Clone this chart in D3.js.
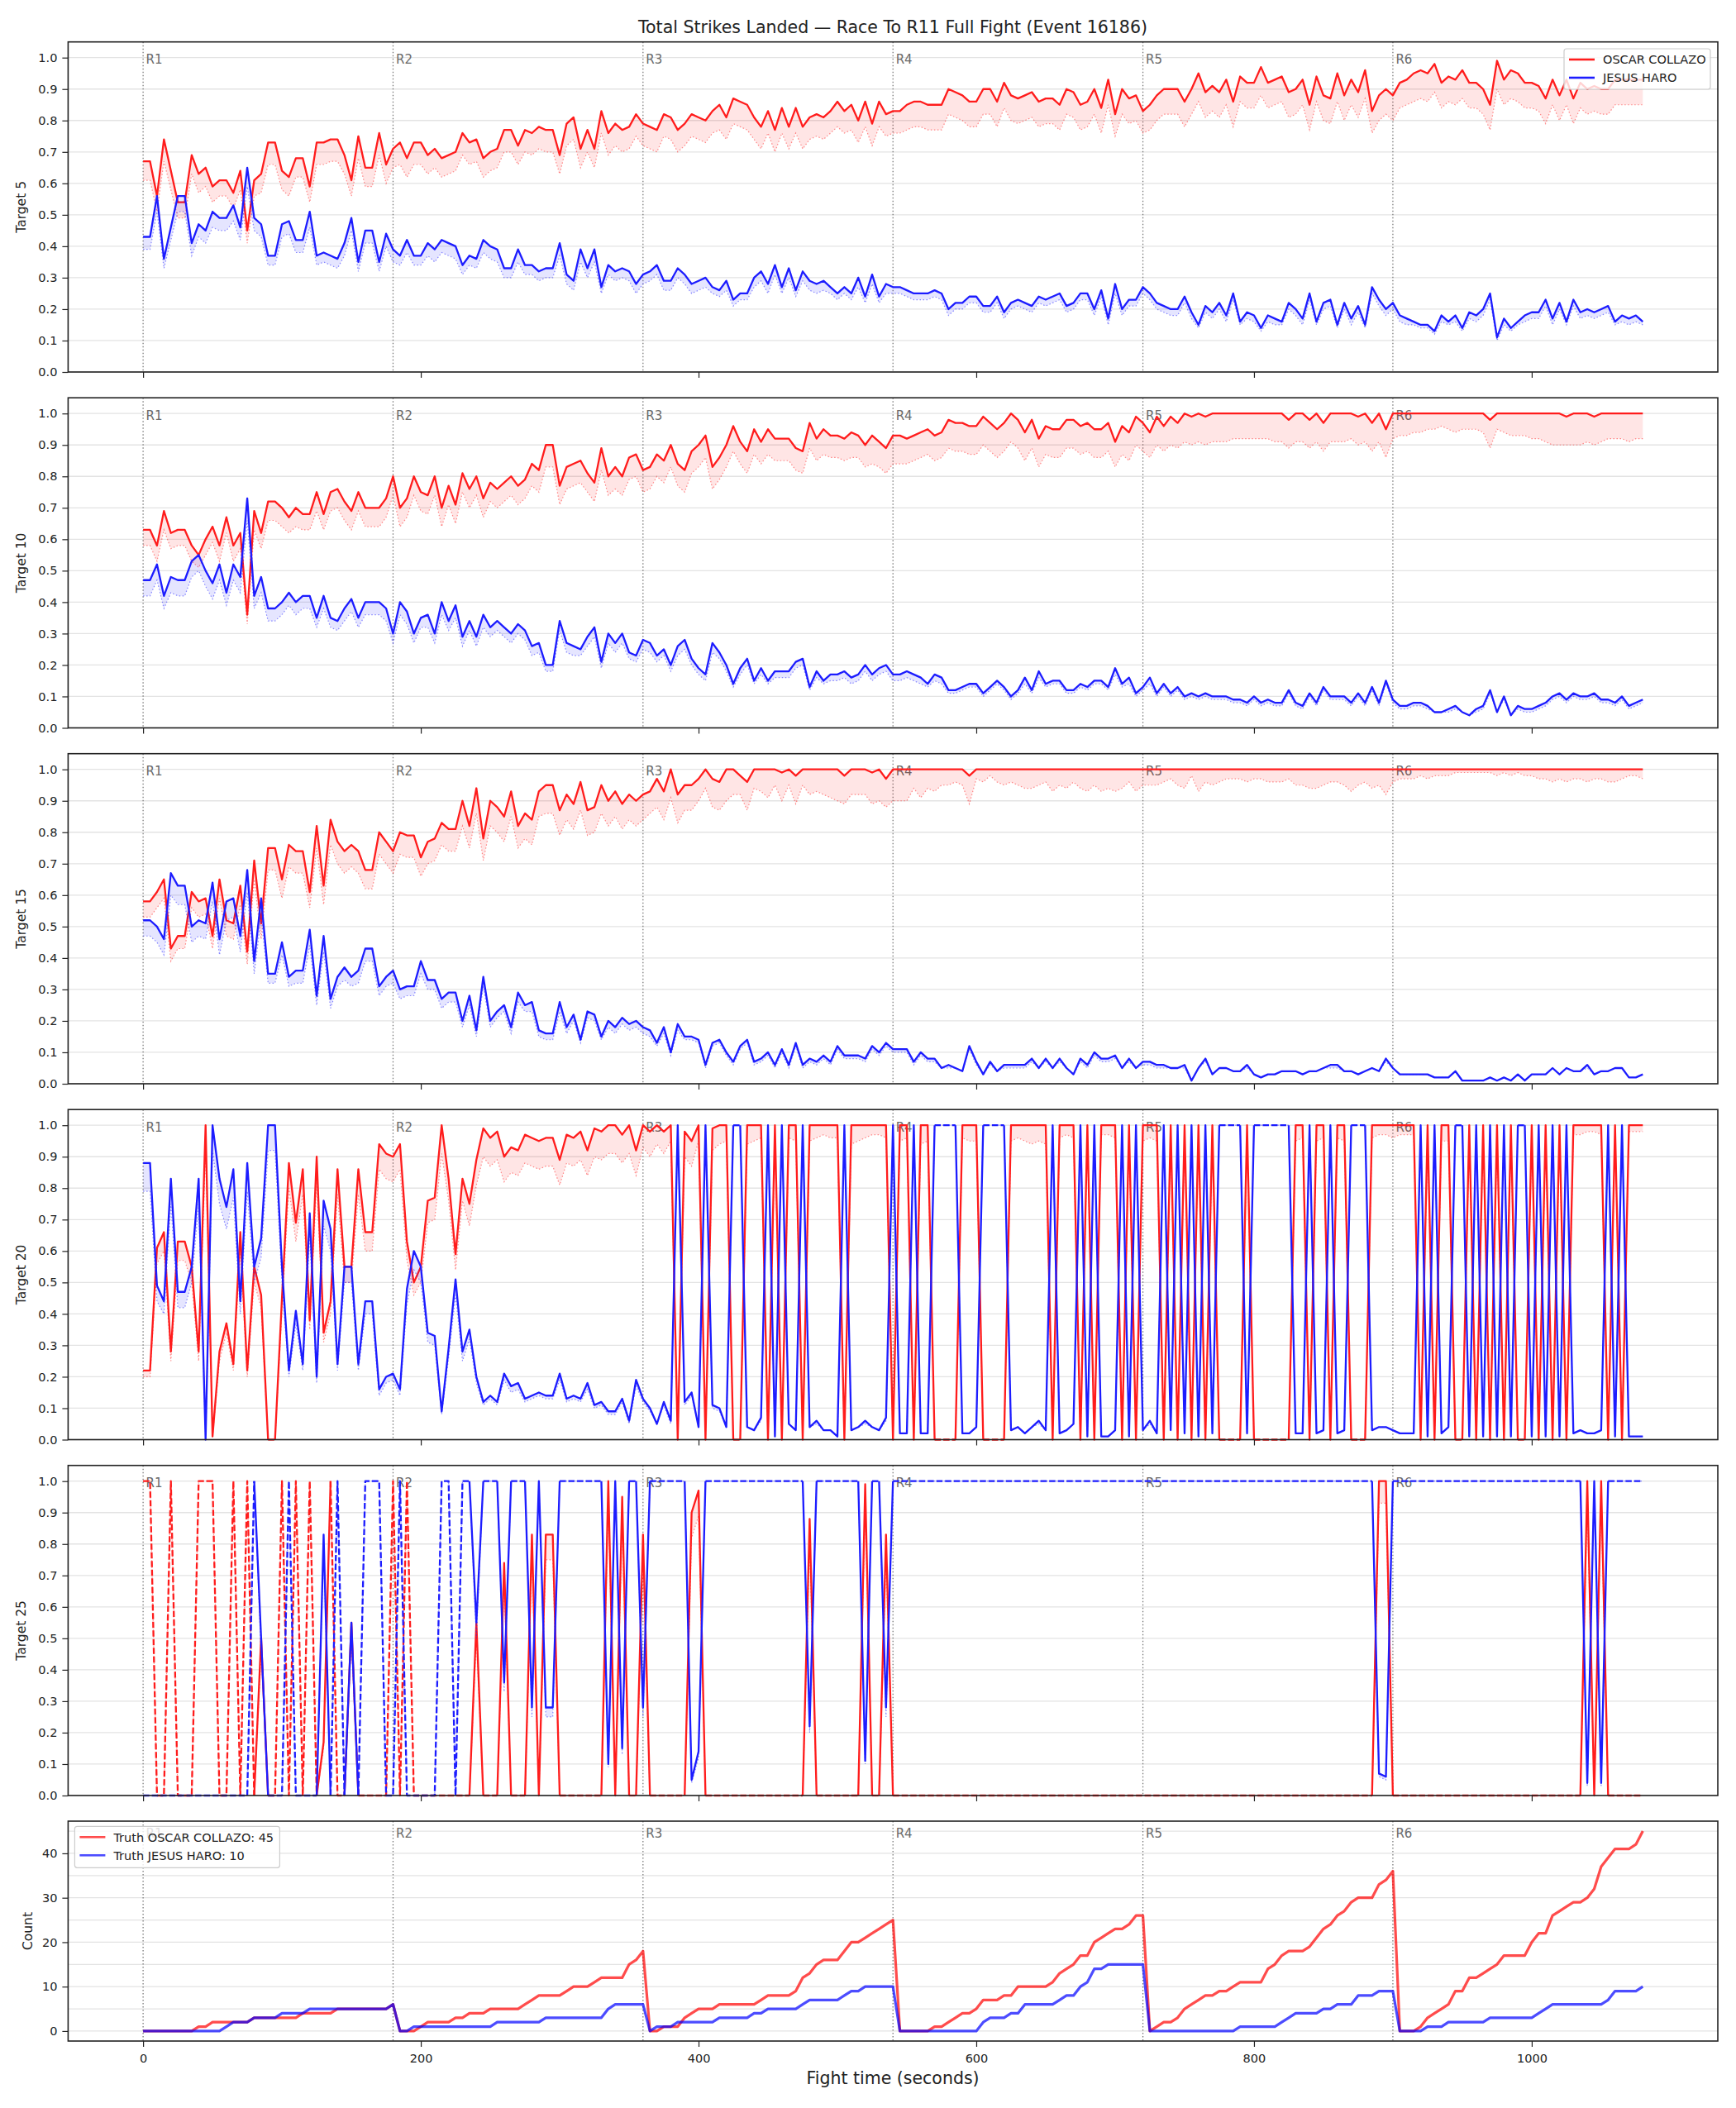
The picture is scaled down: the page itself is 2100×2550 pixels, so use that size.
<!DOCTYPE html>
<html>
<head>
<meta charset="utf-8">
<script src="https://cdn.jsdelivr.net/npm/d3@7"></script>
<style>
  body { margin: 0; background: #fff; }
  text { font-family: "DejaVu Sans", sans-serif; }
</style>
</head>
<body>
<div id="chart"></div>
<script>
const fighters = ["OSCAR COLLAZO", "JESUS HARO"];
const roundStarts = [0, 180, 360, 540, 720, 900];
const roundLabels = ["R1", "R2", "R3", "R4", "R5", "R6"];
const xTicks = [0, 200, 400, 600, 800, 1000];
const times = d3.range(0, 1081, 5);

const t5Red = [67,67,56,74,64,54,54,69,63,65,
59,61,61,57,64,45,61,63,73,73,
64,62,68,68,59,73,73,74,74,69,
61,75,65,65,76,66,71,73,68,73,
73,69,71,68,69,70,76,73,74,68,
70,71,77,77,72,77,76,78,77,77,
69,79,81,71,77,71,83,76,79,77,
78,82,79,78,77,82,81,77,79,82,
81,80,83,85,81,87,86,85,81,78,
83,77,84,78,84,78,81,82,81,83,
86,83,85,80,86,79,86,82,83,83,
85,86,86,85,85,85,90,89,88,86,
86,90,90,86,92,88,87,88,89,86,
87,87,85,90,89,85,86,90,84,93,
82,90,87,88,83,85,88,90,90,90,
86,90,95,89,91,89,93,86,94,92,
92,97,92,93,94,89,90,93,85,94,
88,87,95,88,93,89,96,83,88,90,
88,92,93,95,96,95,98,92,94,93,
96,92,92,90,85,99,93,96,95,92,
92,91,87,93,88,93,87,92,90,91,
90,90,93,93,93,93,93];
const t5RedLow = [61,61,51,67,58,49,49,63,57,59,
54,56,56,52,58,41,56,57,66,66,
58,56,62,62,54,66,66,67,67,63,
56,68,59,59,69,60,65,66,62,66,
66,63,65,62,63,64,69,66,67,62,
64,65,70,70,66,70,69,71,70,70,
63,72,74,65,70,65,76,69,72,70,
71,75,72,71,70,75,74,70,72,75,
74,73,76,77,74,79,78,77,74,71,
76,70,76,71,76,71,74,75,74,76,
78,76,77,73,78,72,78,75,76,76,
77,78,78,77,77,77,82,81,80,78,
78,82,82,78,84,80,79,80,81,78,
79,79,77,82,81,77,78,82,76,85,
75,82,79,80,76,77,80,82,82,82,
78,82,86,81,83,81,85,78,86,84,
84,88,84,85,86,81,82,85,77,86,
80,79,86,80,85,81,87,76,80,82,
80,84,85,86,87,86,89,84,86,85,
87,84,84,82,77,90,85,87,86,84,
84,83,79,85,80,85,79,84,82,83,
82,82,85,85,85,85,85];
const t5Blue = [43,43,56,36,46,56,56,41,47,45,
51,49,49,53,46,65,49,47,37,37,
47,48,42,42,51,37,38,37,36,41,
49,35,45,45,35,44,39,37,42,37,
37,41,39,42,41,40,34,37,36,42,
40,39,33,33,39,34,34,32,33,33,
41,31,29,39,33,39,27,34,32,33,
32,28,31,32,34,29,29,33,31,28,
29,30,27,26,29,23,25,25,30,32,
28,34,27,33,26,32,29,28,29,27,
25,27,25,30,24,31,24,28,27,27,
26,25,25,25,26,25,20,22,22,24,
24,21,21,24,19,22,23,22,21,24,
23,24,25,21,22,25,25,20,26,17,
28,20,23,23,27,25,22,21,20,20,
24,19,15,21,19,22,18,25,16,19,
18,14,18,17,16,22,20,17,25,16,
22,23,15,22,17,21,15,27,23,20,
22,18,17,16,15,15,13,18,16,18,
14,19,18,20,25,11,17,14,16,18,
19,19,23,17,22,16,23,19,20,19,
20,21,16,18,17,18,16];
const t5BlueLow = [39,39,51,33,42,51,51,37,43,41,
46,45,45,48,42,59,45,43,34,34,
43,44,38,38,46,34,35,34,33,37,
45,32,41,41,32,40,35,34,38,34,
34,37,35,38,37,36,31,34,33,38,
36,35,30,30,35,31,31,29,30,30,
37,28,26,35,30,35,25,31,29,30,
29,25,28,29,31,26,26,30,28,25,
26,27,25,24,26,21,23,23,27,29,
25,31,25,30,24,29,26,25,26,25,
23,25,23,27,22,28,22,25,25,25,
24,23,23,23,24,23,18,20,20,22,
22,19,19,22,17,20,21,20,19,22,
21,22,23,19,20,23,23,18,24,15,
25,18,21,21,25,23,20,19,18,18,
22,17,14,19,17,20,16,23,15,17,
16,13,16,15,15,20,18,15,23,15,
20,21,14,20,15,19,14,25,21,18,
20,16,15,15,14,14,12,16,15,16,
13,17,16,18,23,10,15,13,15,16,
17,17,21,15,20,15,21,17,18,17,
18,19,15,16,15,16,15];

const t10Red = [63,63,58,69,62,63,63,58,55,60,
64,58,67,58,62,36,69,62,72,72,
70,67,70,68,68,75,68,75,76,72,
69,75,70,70,70,73,80,70,73,80,
75,74,80,70,77,71,81,76,80,73,
78,76,78,80,77,79,84,82,90,90,
77,83,84,85,81,78,89,80,83,80,
86,87,82,83,87,85,90,84,82,88,
90,93,83,86,90,96,91,88,95,91,
95,92,92,92,89,88,97,92,95,93,
93,92,94,93,90,93,91,89,93,93,
92,93,94,95,93,94,98,97,97,96,
96,99,97,95,97,100,98,94,98,92,
96,95,95,98,98,96,97,95,95,97,
91,96,94,99,97,94,99,96,99,97,
100,99,100,99,100,100,100,100,100,100,
100,100,100,100,100,98,100,100,98,100,
97,100,100,100,100,99,100,97,100,95,
100,100,100,100,100,100,100,100,100,100,
100,100,100,100,98,100,100,100,100,100,
100,100,100,100,100,99,100,100,100,99,
100,100,100,100,100,100,100];
const t10RedLow = [58,58,53,63,57,58,58,53,51,55,
59,53,62,53,57,33,63,57,66,66,
64,62,64,63,63,69,63,69,70,66,
63,69,64,64,64,67,74,64,67,74,
69,68,74,64,71,65,75,70,74,67,
72,70,72,74,71,73,77,75,83,83,
71,76,77,78,75,72,82,74,76,74,
79,80,75,76,80,78,83,77,75,81,
83,86,76,79,83,88,84,81,87,84,
87,85,85,85,82,81,89,85,87,86,
86,85,86,86,83,84,83,81,84,84,
84,85,86,87,85,86,89,88,88,87,
87,90,88,86,88,91,89,85,89,83,
87,86,86,89,89,87,88,86,86,88,
83,87,85,90,88,86,90,88,90,89,
91,90,91,90,91,91,91,92,92,92,
92,92,92,91,91,89,91,91,89,91,
88,91,91,91,92,90,91,88,91,86,
92,93,93,94,94,95,95,96,95,94,
95,95,95,94,89,95,94,93,93,93,
92,92,91,90,90,90,90,90,91,90,
91,92,92,92,91,92,92];
const t10Blue = [47,47,52,42,48,47,47,53,55,50,
46,52,43,52,48,73,42,48,38,38,
40,43,40,42,42,35,42,35,34,38,
41,35,40,40,40,38,30,40,37,30,
35,36,30,40,34,39,29,34,29,36,
32,34,32,30,33,31,26,27,20,20,
34,27,26,25,29,32,21,30,27,30,
24,23,28,27,23,25,20,26,28,22,
19,17,27,24,20,14,19,22,15,19,
15,18,18,18,21,22,13,18,15,17,
17,18,16,17,20,17,19,20,17,17,
18,17,16,14,17,16,12,12,13,14,
14,11,13,15,13,10,12,16,12,18,
14,15,15,12,12,14,13,15,15,13,
19,14,16,11,13,16,11,14,11,13,
10,11,10,11,10,10,10,9,9,8,
10,8,9,8,8,12,8,7,11,8,
13,10,10,10,8,11,8,13,8,15,
9,7,7,8,8,7,5,5,6,7,
5,4,6,7,12,5,10,4,7,6,
6,7,8,10,11,9,11,10,10,11,
9,9,8,10,7,8,9];
const t10BlueLow = [42,42,47,38,43,42,42,48,50,45,
41,47,39,47,43,66,38,43,34,34,
36,39,36,38,38,32,38,32,31,34,
37,32,36,36,36,34,27,36,33,27,
32,32,27,36,31,35,26,31,26,32,
29,31,29,27,30,28,23,24,18,18,
31,24,23,23,26,29,19,27,24,27,
22,21,25,24,21,23,18,23,25,20,
17,15,24,22,18,13,17,20,14,17,
14,16,16,16,19,20,12,16,14,15,
15,16,14,15,18,15,17,18,15,15,
16,15,14,13,15,14,11,11,12,13,
13,10,12,14,12,9,11,14,11,16,
13,14,14,11,11,13,12,14,14,12,
17,13,14,10,12,14,10,13,10,12,
9,10,9,10,9,9,9,8,8,7,
9,7,8,7,7,11,7,6,10,7,
12,9,9,9,7,10,7,12,7,14,
8,6,6,7,7,6,5,5,5,6,
5,4,5,6,11,5,9,4,6,5,
5,6,7,9,10,8,10,9,9,10,
8,8,7,9,6,7,8];

const t15Red = [58,58,61,65,43,47,47,61,58,59,
47,65,52,51,63,42,71,51,75,75,
65,76,74,74,61,82,63,84,77,74,
76,74,68,68,80,77,74,80,79,79,
72,77,78,83,81,81,90,82,94,78,
90,88,85,93,82,86,84,93,95,95,
87,92,89,96,87,88,95,90,93,89,
92,90,92,93,97,93,100,92,95,95,
97,100,97,96,100,100,98,96,100,100,
100,100,99,100,98,100,100,100,100,100,
100,98,100,100,100,99,100,97,100,100,
100,100,100,100,100,100,100,100,100,98,
100,100,100,100,100,100,100,100,100,100,
100,100,100,100,100,100,100,100,100,100,
100,100,100,100,100,100,100,100,100,100,
100,100,100,100,100,100,100,100,100,100,
100,100,100,100,100,100,100,100,100,100,
100,100,100,100,100,100,100,100,100,100,
100,100,100,100,100,100,100,100,100,100,
100,100,100,100,100,100,100,100,100,100,
100,100,100,100,100,100,100,100,100,100,
100,100,100,100,100,100,100];
const t15RedLow = [53,53,56,59,39,43,43,56,53,54,
43,59,47,46,57,38,65,46,68,68,
59,69,67,67,56,75,57,76,70,67,
69,67,62,62,73,70,67,73,72,72,
66,70,71,76,74,74,82,75,86,71,
82,80,77,85,75,78,76,85,86,86,
79,84,81,87,79,80,86,82,85,81,
84,82,84,86,88,84,91,83,87,87,
90,94,88,87,90,92,92,87,94,93,
91,95,90,95,89,95,92,93,92,91,
90,89,92,92,92,89,90,88,90,90,
90,94,91,94,93,95,95,96,95,89,
97,96,98,96,95,96,95,94,94,95,
96,93,95,94,96,94,93,95,93,94,
93,94,96,93,95,95,95,96,97,95,
94,98,93,96,95,96,97,97,97,96,
97,97,96,96,96,97,95,95,94,94,
95,96,96,95,93,95,96,94,95,92,
96,97,97,97,98,97,98,98,98,99,
99,99,99,99,99,98,99,98,99,98,
98,97,97,96,97,96,97,97,96,97,
97,96,96,97,98,98,97];
const t15Blue = [52,52,50,46,67,63,63,50,52,51,
64,46,58,59,47,68,39,59,35,35,
45,34,36,36,49,28,47,27,34,37,
34,36,43,43,31,34,36,30,31,31,
39,33,33,27,29,29,20,28,17,34,
20,23,25,18,29,25,26,17,16,16,
26,18,22,14,23,22,15,20,18,21,
19,20,18,17,13,18,10,19,15,15,
14,6,13,14,10,7,12,14,7,8,
10,6,11,6,13,6,8,7,9,7,
12,9,9,9,8,12,10,13,11,11,
11,7,10,8,8,5,6,5,4,12,
7,3,7,4,6,6,6,6,8,5,
8,5,8,5,3,8,6,10,8,8,
9,5,8,5,7,7,6,6,5,5,
6,1,5,8,3,5,5,4,4,6,
3,2,3,3,4,4,4,3,4,4,
5,6,6,4,4,3,4,5,4,8,
5,3,3,3,3,3,2,2,2,4,
1,1,1,1,2,1,2,1,3,1,
3,3,3,5,3,5,4,4,6,3,
4,4,5,5,2,2,3];
const t15BlueLow = [47,47,45,41,60,57,57,45,47,46,
58,41,52,53,42,61,35,53,32,32,
41,31,32,32,44,25,42,24,31,33,
31,32,39,39,28,31,32,27,28,28,
35,30,30,24,26,26,18,25,15,31,
18,21,23,16,26,23,23,15,14,14,
23,16,20,13,21,20,14,18,16,19,
17,18,16,15,12,16,9,17,14,14,
13,5,12,13,9,6,11,13,6,7,
9,5,10,5,12,5,7,6,8,6,
11,8,8,8,7,11,9,12,10,10,
10,6,9,7,7,5,5,5,4,11,
6,3,6,4,5,5,5,5,7,5,
7,5,7,5,3,7,5,9,7,7,
8,5,7,5,6,6,5,5,5,5,
5,1,5,7,3,5,5,4,4,5,
3,2,3,3,4,4,4,3,4,4,
5,5,5,4,4,3,4,5,4,7,
5,3,3,3,3,3,2,2,2,4,
1,1,1,1,2,1,2,1,3,1,
3,3,3,5,3,5,4,4,5,3,
4,4,5,5,2,2,3];

const t20Red = [22,22,61,66,28,63,63,55,28,100,
1,28,37,24,66,22,55,46,0,0,
45,88,69,86,38,90,34,44,86,55,
55,86,66,66,94,91,90,94,63,50,
55,76,77,100,83,59,83,75,89,99,
96,98,90,93,92,97,96,95,96,96,
89,97,96,98,92,99,98,100,100,97,
100,92,100,98,100,98,100,0,98,95,
100,0,99,100,100,0,0,100,100,100,
0,100,0,100,100,0,100,100,100,100,
100,0,100,100,100,100,100,100,0,100,
100,0,100,100,0,0,0,0,100,100,
100,0,0,0,0,100,100,100,100,100,
100,0,100,100,100,0,100,0,100,100,
100,0,100,0,100,100,100,0,100,0,
100,0,100,0,100,0,0,0,0,100,
0,0,0,0,0,0,100,100,0,100,
100,0,100,100,0,0,0,100,100,100,
100,100,100,100,0,100,0,100,100,0,
0,100,0,100,0,100,0,100,0,0,
100,0,100,0,100,0,100,100,100,100,
100,0,100,0,100,100,100];
const t20RedLow = [20,20,56,60,25,57,57,50,25,92,
1,25,34,22,60,20,50,42,0,0,
41,80,63,78,35,82,31,40,78,50,
50,78,60,60,86,83,82,86,57,46,
50,69,70,91,76,54,76,68,81,90,
87,89,82,85,84,88,87,86,87,87,
81,88,87,89,84,90,89,91,91,88,
91,84,93,90,94,91,95,0,90,87,
95,0,92,94,95,0,0,94,95,96,
0,95,0,96,95,0,95,96,97,96,
96,0,94,95,96,97,97,96,0,95,
96,0,94,95,0,0,0,0,96,95,
95,0,0,0,0,95,96,95,94,95,
94,0,96,97,96,0,95,0,97,97,
96,0,95,0,95,96,95,0,96,0,
96,0,96,0,95,0,0,0,0,96,
0,0,0,0,0,0,95,96,0,95,
96,0,96,95,0,0,0,96,97,97,
96,97,97,97,0,96,0,95,95,0,
0,96,0,96,0,96,0,96,0,0,
96,0,96,0,96,0,97,97,98,98,
97,0,97,0,98,98,98];
const t20Blue = [88,88,49,44,83,47,47,55,83,0,
100,83,74,86,44,88,55,64,100,100,
55,22,41,24,72,20,76,67,24,55,
55,24,44,44,16,20,21,16,48,60,
55,34,33,9,29,51,28,35,20,12,
14,12,21,17,18,13,14,15,14,14,
21,13,14,13,18,11,12,9,9,13,
6,19,13,10,5,12,6,100,12,15,
4,100,11,10,4,100,100,4,3,7,
100,1,100,5,3,100,4,6,3,3,
1,100,3,4,6,4,3,7,100,2,
2,100,2,2,100,100,100,100,2,2,
4,100,100,100,100,3,4,2,4,6,
3,100,2,3,5,100,1,100,1,1,
3,100,1,100,3,6,2,100,3,100,
2,100,1,100,2,100,100,100,100,2,
100,100,100,100,100,100,2,2,100,2,
3,100,2,3,100,100,100,3,4,4,
3,2,2,2,100,1,100,2,4,100,
100,1,100,1,100,1,100,1,100,100,
1,100,1,100,1,100,2,3,2,2,
3,100,1,100,1,1,1];
const t20BlueLow = [79,79,44,40,75,42,42,50,75,0,
92,75,67,77,40,79,50,58,92,92,
50,20,37,22,65,18,68,60,22,50,
50,22,40,40,14,18,19,14,43,54,
50,31,30,8,26,46,25,32,18,11,
13,11,19,15,16,12,13,14,13,13,
19,12,13,12,16,10,11,8,8,12,
5,17,12,9,5,11,5,100,11,14,
4,100,10,9,4,100,100,4,3,6,
100,1,100,5,3,100,4,5,3,3,
1,100,3,4,5,4,3,6,100,2,
2,100,2,2,100,100,100,100,2,2,
4,100,100,100,100,3,4,2,4,5,
3,100,2,3,5,100,1,100,1,1,
3,100,1,100,3,5,2,100,3,100,
2,100,1,100,2,100,100,100,100,2,
100,100,100,100,100,100,2,2,100,2,
3,100,2,3,100,100,100,3,4,4,
3,2,2,2,100,1,100,2,4,100,
100,1,100,1,100,1,100,1,100,100,
1,100,1,100,1,100,2,3,2,2,
3,100,1,100,1,1,1];

const t25Red = [100,100,0,0,100,0,0,0,100,100,
100,0,0,100,0,100,0,50,0,0,
100,0,100,0,100,0,17,100,0,0,
55,0,0,0,0,0,100,0,100,0,
0,0,0,0,0,0,0,0,55,0,
0,0,74,0,0,0,83,0,83,83,
0,0,0,0,0,0,0,100,0,95,
0,0,83,0,0,0,0,0,0,90,
97,0,0,0,0,0,0,0,0,0,
0,0,0,0,0,0,88,0,0,0,
0,0,0,0,99,0,0,83,0,0,
0,0,0,0,0,0,0,0,0,0,
0,0,0,0,0,0,0,0,0,0,
0,0,0,0,0,0,0,0,0,0,
0,0,0,0,0,0,0,0,0,0,
0,0,0,0,0,0,0,0,0,0,
0,0,0,0,0,0,0,0,0,0,
0,0,0,0,0,0,0,0,100,100,
0,0,0,0,0,0,0,0,0,0,
0,0,0,0,0,0,0,0,0,0,
0,0,0,0,0,0,0,0,100,0,
100,0,0,0,0,0,0];
const t25RedLow = [100,100,0,0,100,0,0,0,100,100,
100,0,0,100,0,100,0,45,0,0,
100,0,100,0,100,0,15,100,0,0,
50,0,0,0,0,0,100,0,100,0,
0,0,0,0,0,0,0,0,50,0,
0,0,68,0,0,0,76,0,75,75,
0,0,0,0,0,0,0,93,0,87,
0,0,75,0,0,0,0,0,0,82,
89,0,0,0,0,0,0,0,0,0,
0,0,0,0,0,0,80,0,0,0,
0,0,0,0,92,0,0,75,0,0,
0,0,0,0,0,0,0,0,0,0,
0,0,0,0,0,0,0,0,0,0,
0,0,0,0,0,0,0,0,0,0,
0,0,0,0,0,0,0,0,0,0,
0,0,0,0,0,0,0,0,0,0,
0,0,0,0,0,0,0,0,0,0,
0,0,0,0,0,0,0,0,93,93,
0,0,0,0,0,0,0,0,0,0,
0,0,0,0,0,0,0,0,0,0,
0,0,0,0,0,0,0,0,93,0,
93,0,0,0,0,0,0];
const t25Blue = [0,0,0,0,0,0,0,0,0,0,
0,0,0,0,0,0,100,50,0,0,
0,100,0,0,0,0,83,0,100,0,
55,0,100,100,100,0,0,100,0,0,
0,0,0,100,100,0,100,100,55,100,
100,100,36,100,100,100,28,100,28,28,
100,100,100,100,100,100,100,10,100,15,
100,100,28,100,100,100,100,100,100,5,
14,100,100,100,100,100,100,100,100,100,
100,100,100,100,100,100,22,100,100,100,
100,100,100,100,11,100,100,28,100,100,
100,100,100,100,100,100,100,100,100,100,
100,100,100,100,100,100,100,100,100,100,
100,100,100,100,100,100,100,100,100,100,
100,100,100,100,100,100,100,100,100,100,
100,100,100,100,100,100,100,100,100,100,
100,100,100,100,100,100,100,100,100,100,
100,100,100,100,100,100,100,100,7,6,
100,100,100,100,100,100,100,100,100,100,
100,100,100,100,100,100,100,100,100,100,
100,100,100,100,100,100,100,100,4,100,
4,100,100,100,100,100,100];
const t25BlueLow = [0,0,0,0,0,0,0,0,0,0,
0,0,0,0,0,0,100,45,0,0,
0,100,0,0,0,0,78,0,100,0,
50,0,100,100,100,0,0,100,0,0,
0,0,0,100,100,0,100,100,50,100,
100,100,33,100,100,100,25,100,25,25,
100,100,100,100,100,100,100,9,100,13,
100,100,25,100,100,100,100,100,100,4,
12,100,100,100,100,100,100,100,100,100,
100,100,100,100,100,100,20,100,100,100,
100,100,100,100,10,100,100,25,100,100,
100,100,100,100,100,100,100,100,100,100,
100,100,100,100,100,100,100,100,100,100,
100,100,100,100,100,100,100,100,100,100,
100,100,100,100,100,100,100,100,100,100,
100,100,100,100,100,100,100,100,100,100,
100,100,100,100,100,100,100,100,100,100,
100,100,100,100,100,100,100,100,6,5,
100,100,100,100,100,100,100,100,100,100,
100,100,100,100,100,100,100,100,100,100,
100,100,100,100,100,100,100,100,3,100,
3,100,100,100,100,100,100];

const truthRed = [0,0,0,0,0,0,0,0,1,1,
2,2,2,2,2,2,3,3,3,3,
3,3,3,4,4,4,4,4,5,5,
5,5,5,5,5,5,6,0,0,0,
1,2,2,2,2,3,3,4,4,4,
5,5,5,5,5,6,7,8,8,8,
8,9,10,10,10,11,12,12,12,12,
15,16,18,0,0,1,1,1,3,4,
5,5,5,6,6,6,6,6,6,7,
8,8,8,8,9,12,13,15,16,16,
16,18,20,20,21,22,23,24,25,0,
0,0,0,0,1,1,2,3,4,4,
5,7,7,7,8,8,10,10,10,10,
10,11,13,14,15,17,17,20,21,22,
23,23,24,26,26,0,1,2,2,3,
5,6,7,8,8,9,9,10,11,11,
11,11,14,15,17,18,18,18,19,21,
23,24,26,27,29,30,30,30,33,34,
36,0,0,0,1,3,4,5,6,9,
9,12,12,13,14,15,17,17,17,17,
20,22,22,26,27,28,29,29,30,32,
37,39,41,41,41,42,45];
const truthBlue = [0,0,0,0,0,0,0,0,0,0,
0,0,1,2,2,2,3,3,3,3,
4,4,4,4,5,5,5,5,5,5,
5,5,5,5,5,5,6,0,0,1,
1,1,1,1,1,1,1,1,1,1,
1,2,2,2,2,2,2,2,3,3,
3,3,3,3,3,3,3,5,6,6,
6,6,6,0,1,1,1,2,2,2,
2,2,2,3,3,3,3,3,4,4,
5,5,5,5,5,6,7,7,7,7,
7,8,9,9,10,10,10,10,10,0,
0,0,0,0,0,0,0,0,0,0,
0,2,3,3,3,4,4,6,6,6,
6,6,7,8,8,10,11,14,14,15,
15,15,15,15,15,0,0,0,0,0,
0,0,0,0,0,0,0,0,1,1,
1,1,1,1,2,3,4,4,4,4,
5,5,6,6,6,8,8,8,9,9,
9,0,0,0,0,1,1,1,2,2,
2,2,2,2,3,3,3,3,3,3,
3,4,5,6,6,6,6,6,6,6,
6,7,9,9,9,9,10];

const panels = [
  { label: "Target 5",  red: t5Red,  redLow: t5RedLow,  blue: t5Blue,  blueLow: t5BlueLow },
  { label: "Target 10", red: t10Red, redLow: t10RedLow, blue: t10Blue, blueLow: t10BlueLow },
  { label: "Target 15", red: t15Red, redLow: t15RedLow, blue: t15Blue, blueLow: t15BlueLow },
  { label: "Target 20", red: t20Red, redLow: t20RedLow, blue: t20Blue, blueLow: t20BlueLow },
  { label: "Target 25", red: t25Red, redLow: t25RedLow, blue: t25Blue, blueLow: t25BlueLow }
];

const RED = "rgb(255,28,28)", BLUE = "rgb(28,28,255)";
const INK = "#222";

const svg = d3.select("#chart").append("svg")
    .attr("width", 2100).attr("height", 2550);
svg.append("rect").attr("width", 2100).attr("height", 2550).attr("fill", "#fff");

const left = 82.4, right = 2078;
const x = d3.scaleLinear().domain([-54, 1134]).range([left, right]);

function drawGrid(g, y, vals) {
  g.selectAll(null).data(vals).join("line")
    .attr("x1", left).attr("x2", right)
    .attr("y1", d => y(d)).attr("y2", d => y(d))
    .attr("stroke", "#e3e3e3").attr("stroke-width", 1.3);
}

function drawRounds(g, top, h) {
  roundStarts.forEach((t, r) => {
    g.append("line")
      .attr("x1", x(t)).attr("x2", x(t)).attr("y1", top).attr("y2", top + h)
      .attr("stroke", "#707070").attr("stroke-width", 1.2)
      .attr("stroke-dasharray", "1.5,2.5");
    g.append("text")
      .attr("x", x(t) + 3.5).attr("y", top + 0.053 * h + 5.5)
      .attr("fill", "#6a6a6a").attr("font-size", 15)
      .text(roundLabels[r]);
  });
}

function drawSeries(g, y, vals, lows, col, fill) {
  const n = Math.min(times.length, vals.length, lows.length);
  const pts = d3.range(n).map(k => ({ t: times[k], v: vals[k], lo: lows[k] }));
  g.append("path").datum(pts)
    .attr("d", d3.area().x(d => x(d.t)).y0(d => y(d.lo / 100)).y1(d => y(d.v / 100)))
    .attr("fill", fill);
  g.append("path").datum(pts)
    .attr("d", d3.line().x(d => x(d.t)).y(d => y(d.lo / 100)))
    .attr("fill", "none").attr("stroke", col).attr("stroke-opacity", 0.5)
    .attr("stroke-width", 1.2).attr("stroke-dasharray", "1.5,2.5");

  // saturated stretches with no band show up dashed in the reference
  const flat = d => (d.v === 0 || d.v === 100) && d.lo === d.v;
  const runs = [];
  for (let k = 0; k < n - 1; k++) {
    const dashed = flat(pts[k]) && flat(pts[k + 1]);
    const last = runs[runs.length - 1];
    if (last && last.dashed === dashed) last.pts.push(pts[k + 1]);
    else runs.push({ dashed: dashed, pts: [pts[k], pts[k + 1]] });
  }
  const line = d3.line().x(d => x(d.t)).y(d => y(d.v / 100));
  runs.forEach(r => {
    g.append("path").datum(r.pts).attr("d", line)
      .attr("fill", "none").attr("stroke", col).attr("stroke-width", 2.3)
      .attr("stroke-linejoin", "round")
      .attr("stroke-dasharray", r.dashed ? "7.5,3" : null);
  });
}

function drawFrame(g, y, top, h, yTickVals, fmt, showX, ylabel, ylabelX) {
  const ya = g.append("g").attr("transform", `translate(${left},0)`)
    .call(d3.axisLeft(y).tickValues(yTickVals).tickFormat(fmt).tickSize(7).tickPadding(6));
  ya.select(".domain").remove();
  ya.selectAll("line").attr("stroke", INK).attr("stroke-width", 1.2);
  ya.selectAll("text").attr("font-size", 14.5).attr("fill", INK)
    .attr("font-family", "DejaVu Sans, sans-serif");

  const xa = g.append("g").attr("transform", `translate(0,${top + h})`)
    .call(d3.axisBottom(x).tickValues(xTicks).tickSize(7).tickPadding(9)
      .tickFormat(showX ? d3.format("d") : ""));
  xa.select(".domain").remove();
  xa.selectAll("line").attr("stroke", INK).attr("stroke-width", 1.2);
  xa.selectAll("text").attr("font-size", 14.5).attr("fill", INK)
    .attr("font-family", "DejaVu Sans, sans-serif");

  g.append("rect").attr("x", left).attr("y", top).attr("width", right - left).attr("height", h)
    .attr("fill", "none").attr("stroke", INK).attr("stroke-width", 1.6);

  g.append("text")
    .attr("transform", `translate(${ylabelX},${top + h / 2}) rotate(-90)`)
    .attr("text-anchor", "middle").attr("font-size", 15.5).attr("fill", INK)
    .text(ylabel);
}

function drawLegend(g, bx, by, bw, bh, items) {
  g.append("rect").attr("x", bx).attr("y", by).attr("width", bw).attr("height", bh)
    .attr("rx", 3).attr("fill", "#fff").attr("fill-opacity", 0.8)
    .attr("stroke", "#cccccc").attr("stroke-width", 1.2);
  items.forEach((it, k) => {
    const cy = by + 13 + k * 22;
    g.append("line").attr("x1", bx + 6).attr("x2", bx + 37).attr("y1", cy).attr("y2", cy)
      .attr("stroke", it.color).attr("stroke-opacity", it.opacity || 1).attr("stroke-width", 2.6);
    g.append("text").attr("x", bx + 47).attr("y", cy + 5.2)
      .attr("font-size", 14.5).attr("fill", INK).text(it.text);
  });
}

// five probability panels
panels.forEach((p, i) => {
  const top = 50.7 + i * 430.5, h = 399.3;
  const y = d3.scaleLinear().domain([0, 1.05]).range([top + h, top]);
  const g = svg.append("g");
  const yt = d3.range(0, 11).map(v => v / 10);
  drawGrid(g, y, yt);
  drawRounds(g, top, h);
  drawSeries(g, y, p.red, p.redLow, RED, "rgba(255,0,0,0.1)");
  drawSeries(g, y, p.blue, p.blueLow, BLUE, "rgba(0,0,255,0.1)");
  drawFrame(g, y, top, h, yt, d3.format(".1f"), false, p.label, 30.5);
  if (i === 0) {
    drawLegend(g, 1892, 59, 177, 49, [
      { color: RED, text: fighters[0] },
      { color: BLUE, text: fighters[1] }
    ]);
  }
});

// truth count panel
{
  const top = 2203, h = 266;
  const y = d3.scaleLinear().domain([-2.25, 47.25]).range([top + h, top]);
  const g = svg.append("g");
  drawGrid(g, y, d3.range(0, 46, 5));
  drawRounds(g, top, h);
  const line = d3.line().x((d, k) => x(times[k])).y(d => y(d));
  g.append("path").datum(truthRed).attr("d", line)
    .attr("fill", "none").attr("stroke", "red").attr("stroke-opacity", 0.7)
    .attr("stroke-width", 3.2).attr("stroke-linejoin", "round");
  g.append("path").datum(truthBlue).attr("d", line)
    .attr("fill", "none").attr("stroke", "blue").attr("stroke-opacity", 0.7)
    .attr("stroke-width", 3.2).attr("stroke-linejoin", "round");
  drawFrame(g, y, top, h, [0, 10, 20, 30, 40], d3.format("d"), true, "Count", 39);
  drawLegend(g, 90.4, 2209.3, 248, 50, [
    { color: "red", opacity: 0.7, text: `Truth ${fighters[0]}: ${truthRed[truthRed.length - 1]}` },
    { color: "blue", opacity: 0.7, text: `Truth ${fighters[1]}: ${truthBlue[truthBlue.length - 1]}` }
  ]);
}

svg.append("text").attr("x", 1080).attr("y", 40).attr("text-anchor", "middle")
  .attr("font-size", 20.5).attr("fill", INK)
  .text("Total Strikes Landed \u2014 Race To R11 Full Fight (Event 16186)");

svg.append("text").attr("x", 1080).attr("y", 2521).attr("text-anchor", "middle")
  .attr("font-size", 20.5).attr("fill", INK)
  .text("Fight time (seconds)");

// length check, only visible when an array is off
const all = { t5Red, t5RedLow, t5Blue, t5BlueLow, t10Red, t10RedLow, t10Blue, t10BlueLow,
  t15Red, t15RedLow, t15Blue, t15BlueLow, t20Red, t20RedLow, t20Blue, t20BlueLow,
  t25Red, t25RedLow, t25Blue, t25BlueLow, truthRed, truthBlue };
const bad = Object.keys(all).filter(k => all[k].length !== times.length)
  .map(k => k + ":" + all[k].length);
if (bad.length) svg.append("text").attr("x", 300).attr("y", 20).attr("fill", "magenta")
  .attr("font-size", 14).text("LEN " + bad.join(" "));
</script>
</body>
</html>
